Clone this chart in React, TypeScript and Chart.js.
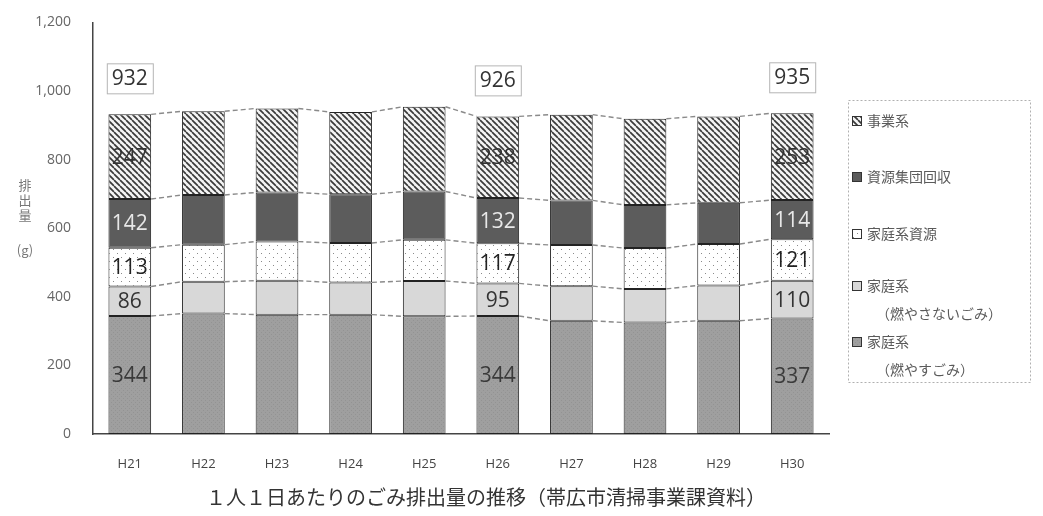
import React, { useEffect, useRef } from "react";
import { Chart, registerables } from "chart.js";

Chart.register(...registerables);

const categories = ["H21", "H22", "H23", "H24", "H25", "H26", "H27", "H28", "H29", "H30"];
const burnable = [344, 351, 348, 348, 343, 344, 330, 325, 330, 337];
const nonBurnable = [86, 93, 99, 94, 103, 95, 101, 98, 103, 110];
const householdResources = [113, 108, 114, 115, 120, 117, 120, 119, 121, 121];
const groupCollection = [142, 145, 143, 142, 141, 132, 130, 126, 120, 114];
const business = [247, 244, 245, 240, 247, 238, 250, 251, 252, 253];
const labeledIndices = [0, 5, 9];
const yTicks = [0, 200, 400, 600, 800, 1000, 1200];
const yTitleChars = ["排", "出", "量"];
const yTitleUnit = "(g)";
const caption = "１人１日あたりのごみ排出量の推移（帯広市清掃事業課資料）";

function makePattern(kind: string): CanvasPattern | string {
  const c = document.createElement("canvas");
  const ctx = c.getContext("2d");
  if (!ctx) return "#ccc";
  if (kind === "hatch") {
    const s = 6;
    c.width = s;
    c.height = s;
    ctx.fillStyle = "#f4f4f4";
    ctx.fillRect(0, 0, s, s);
    ctx.strokeStyle = "#3a3a3a";
    ctx.lineWidth = 1.7;
    for (const x0 of [-s, 0, s]) {
      ctx.beginPath();
      ctx.moveTo(x0, 0);
      ctx.lineTo(x0 + s, s);
      ctx.stroke();
    }
  } else if (kind === "dots") {
    c.width = 8;
    c.height = 8;
    ctx.fillStyle = "#ffffff";
    ctx.fillRect(0, 0, 8, 8);
    ctx.fillStyle = "#8a8a8a";
    ctx.fillRect(1, 1, 1, 1);
    ctx.fillRect(5, 5, 1, 1);
  } else if (kind === "speckle") {
    c.width = 4;
    c.height = 4;
    ctx.fillStyle = "#9f9f9f";
    ctx.fillRect(0, 0, 4, 4);
    ctx.fillStyle = "#939393";
    ctx.fillRect(1, 0, 1, 1);
    ctx.fillRect(3, 2, 1, 1);
  }
  const p = ctx.createPattern(c, "repeat");
  return p || "#ccc";
}

const overlayPlugin = {
  id: "overlay",
  afterDatasetsDraw(chart: any) {
    const ctx = chart.ctx as CanvasRenderingContext2D;
    const n = chart.data.datasets.length;
    const metas = chart.data.datasets.map((_: any, i: number) => chart.getDatasetMeta(i));
    // series lines
    ctx.save();
    ctx.strokeStyle = "#8a8a8a";
    ctx.lineWidth = 1.4;
    ctx.setLineDash([5, 3]);
    for (let i = 0; i < n; i++) {
      const els = metas[i].data;
      for (let j = 0; j < els.length - 1; j++) {
        const a = els[j].getProps(["x", "y", "width"], true);
        const b = els[j + 1].getProps(["x", "y", "width"], true);
        ctx.beginPath();
        ctx.moveTo(a.x + a.width / 2, a.y);
        ctx.lineTo(b.x - b.width / 2, b.y);
        ctx.stroke();
      }
    }
    ctx.restore();

    // segment labels
    ctx.save();
    ctx.font = "21px 'Open Sans'";
    ctx.textAlign = "center";
    ctx.textBaseline = "middle";
    const labelColors = ["#3a3a3a", "#333333", "#222222", "#e8e8e8", "#333333"];
    for (const j of labeledIndices) {
      for (let i = 0; i < n; i++) {
        const el = metas[i].data[j].getProps(["x", "y", "base"], true);
        const v = chart.data.datasets[i].data[j];
        ctx.fillStyle = labelColors[i];
        ctx.fillText(String(v), el.x, (el.y + el.base) / 2 + 1);
      }
      // total box
      let total = 0;
      for (let i = 0; i < n; i++) total += chart.data.datasets[i].data[j];
      const top = metas[n - 1].data[j].getProps(["x", "y"], true);
      const cy = top.y - 36;
      const w = 46;
      const h = 30;
      ctx.fillStyle = "#ffffff";
      ctx.fillRect(top.x - w / 2, cy - h / 2, w, h);
      ctx.strokeStyle = "#b5b5b5";
      ctx.lineWidth = 1;
      ctx.setLineDash([]);
      ctx.strokeRect(top.x - w / 2 + 0.5, cy - h / 2 + 0.5, w, h);
      ctx.fillStyle = "#333333";
      ctx.fillText(String(total), top.x, cy + 1);
    }
    ctx.restore();
  },
  afterDraw(chart: any) {
    const ctx = chart.ctx as CanvasRenderingContext2D;
    ctx.save();
    // y title
    ctx.fillStyle = "#777777";
    ctx.font = "13px 'Noto Sans CJK JP'";
    ctx.textAlign = "center";
    ctx.textBaseline = "middle";
    yTitleChars.forEach((ch, k) => ctx.fillText(ch, 25, 185 + k * 15));
    ctx.fillText(yTitleUnit, 25, 250);

    // legend
    ctx.setLineDash([2, 2]);
    ctx.strokeStyle = "#b0b0b0";
    ctx.lineWidth = 1;
    ctx.strokeRect(848.5, 100.5, 182, 282);
    ctx.setLineDash([]);
    const rows = [121, 177, 234, 286, 342];
    const ds = chart.data.datasets;
    ctx.font = "14px 'Noto Sans CJK JP'";
    ctx.textAlign = "left";
    for (let r = 0; r < ds.length; r++) {
      const d = ds[ds.length - 1 - r];
      const y = rows[r];
      ctx.fillStyle = d.backgroundColor;
      ctx.fillRect(852, y - 5, 10, 10);
      ctx.strokeStyle = "#333";
      ctx.strokeRect(852.5, y - 4.5, 9, 9);
      ctx.fillStyle = "#5a5a5a";
      const label: string = d.label;
      const idx = label.indexOf("（");
      if (idx > 0) {
        ctx.fillText(label.slice(0, idx), 867, y);
        ctx.fillText(label.slice(idx), 876, y + 28);
      } else {
        ctx.fillText(label, 867, y);
      }
    }

    // caption
    ctx.fillStyle = "#333333";
    ctx.font = "20px 'Noto Sans CJK JP'";
    ctx.textAlign = "center";
    ctx.fillText(caption, 486, 497);
    ctx.restore();
  },
};

export default function App() {
  const ref = useRef<HTMLCanvasElement | null>(null);
  useEffect(() => {
    if (!ref.current) return;
    const chart = new Chart(ref.current, {
      type: "bar",
      data: {
        labels: categories,
        datasets: [
          { label: "家庭系（燃やすごみ）", data: burnable, backgroundColor: makePattern("speckle") as any },
          { label: "家庭系（燃やさないごみ）", data: nonBurnable, backgroundColor: "#d8d8d8" },
          { label: "家庭系資源", data: householdResources, backgroundColor: makePattern("dots") as any },
          { label: "資源集団回収", data: groupCollection, backgroundColor: "#5c5c5c" },
          { label: "事業系", data: business, backgroundColor: makePattern("hatch") as any },
        ].map((d) => ({
          ...d,
          borderColor: "#222222",
          borderWidth: 1,
          borderSkipped: false,
          barPercentage: 0.58,
          categoryPercentage: 1,
        })),
      },
      options: {
        responsive: false,
        animation: false,
        locale: "en-US",
        layout: { padding: { left: 0, right: 214, top: 16, bottom: 0 } },
        plugins: { legend: { display: false }, tooltip: { enabled: false }, title: { display: false } },
        scales: {
          x: {
            stacked: true,
            grid: { display: false },
            border: { display: true, color: "#444444", width: 1.5 },
            ticks: { color: "#444444", font: { size: 13, family: "'Open Sans'" }, padding: 14 },
            afterFit: (s: any) => {
              s.height = 82;
            },
          },
          y: {
            stacked: true,
            min: 0,
            max: 1200,
            afterBuildTicks: (s: any) => {
              s.ticks = yTicks.map((v) => ({ value: v }));
            },
            grid: { display: false },
            border: { display: true, color: "#444444", width: 1.5 },
            ticks: { color: "#666666", font: { size: 14, family: "'Open Sans'" }, padding: 14 },
            afterFit: (s: any) => {
              s.width = 93;
            },
          },
        },
      },
      plugins: [overlayPlugin],
    });
    return () => chart.destroy();
  }, []);
  return (
    <div style={{ position: "absolute", left: 0, top: 0, width: 1043, height: 516, background: "#fff" }}>
      <canvas ref={ref} width={1043} height={516} />
    </div>
  );
}
